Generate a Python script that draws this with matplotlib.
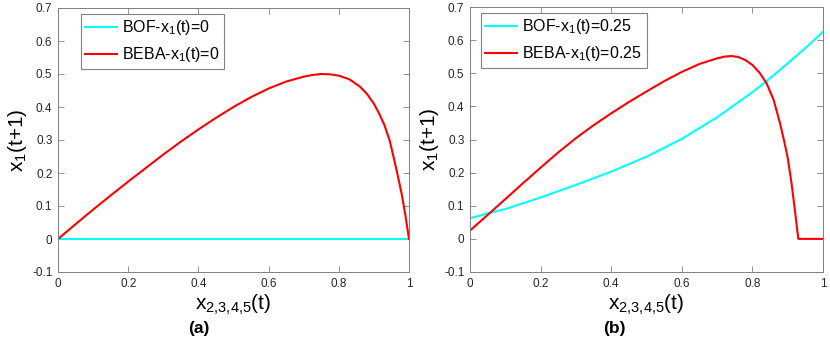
import numpy as np
import matplotlib
matplotlib.use('Agg')
import matplotlib.pyplot as plt

plt.rcParams['font.family'] = ['Liberation Sans', 'DejaVu Sans']
plt.rcParams['mathtext.fontset'] = 'custom'
plt.rcParams['mathtext.rm'] = 'Liberation Sans'
plt.rcParams['mathtext.it'] = 'Liberation Sans'
plt.rcParams['mathtext.default'] = 'regular'

# datos
# (a) x1(t)=0
xa_beba = [0, 0.05, 0.1, 0.15, 0.2, 0.25, 0.3, 0.35, 0.4, 0.45, 0.5, 0.55, 0.6,
           0.65, 0.7, 0.725, 0.75, 0.775, 0.8, 0.83, 0.86, 0.88, 0.9, 0.915, 0.93,
           0.945, 0.955, 0.965, 0.98, 0.99, 1.0]
ya_beba = [0, 0.045, 0.089, 0.132, 0.174, 0.215, 0.256, 0.295, 0.332, 0.367,
           0.4, 0.43, 0.456, 0.477, 0.492, 0.497, 0.5, 0.499, 0.495, 0.484, 0.462,
           0.44, 0.41, 0.38, 0.345, 0.298, 0.253, 0.207, 0.132, 0.07, 0.0]
xa_bof = [0, 1.0]
ya_bof = [0, 0]

# (b) x1(t)=0.25
xb_bof = [0, 0.057, 0.1, 0.2, 0.3, 0.4, 0.5, 0.6, 0.7, 0.8, 0.84, 0.9, 0.95, 1.0]
yb_bof = [0.0625, 0.079, 0.09, 0.125, 0.163, 0.203, 0.248, 0.302, 0.367, 0.443,
          0.476, 0.53, 0.576, 0.625]
xb_beba = [0, 0.057, 0.1, 0.15, 0.2, 0.25, 0.3, 0.35, 0.4, 0.45, 0.5, 0.55,
           0.6, 0.65, 0.7, 0.72, 0.74, 0.76, 0.78, 0.8, 0.82, 0.84, 0.86,
           0.878, 0.89, 0.9, 0.911, 0.92, 0.93, 1.0]
yb_beba = [0.025, 0.079, 0.12, 0.168, 0.215, 0.261, 0.304, 0.343, 0.379, 0.413,
           0.445, 0.476, 0.504, 0.528, 0.545, 0.55, 0.552, 0.549, 0.54, 0.525,
           0.502, 0.47, 0.42, 0.35, 0.295, 0.245, 0.167, 0.09, 0.0, 0.0]

cian = '#00FFFF'
rojo = '#FF0000'
gris = '#808080'

fig = plt.figure(figsize=(8.3, 3.39), dpi=100)
ax1 = fig.add_axes([58/830, 1-272/339, 351/830, 264/339])
ax2 = fig.add_axes([470/830, 1-272/339, 353/830, 265/339])

paneles = [
    (ax1, xa_bof, ya_bof, xa_beba, ya_beba, 'BOF-$x_1$(t)=0', 'BEBA-$x_1$(t)=0'),
    (ax2, xb_bof, yb_bof, xb_beba, yb_beba, 'BOF-$x_1$(t)=0.25', 'BEBA-$x_1$(t)=0.25'),
]

for ax, xc, yc, xr, yr, lab_c, lab_r in paneles:
    ax.plot(xc, yc, color=cian, lw=1.5, label=lab_c)
    ax.plot(xr, yr, color=rojo, lw=1.5, label=lab_r)
    ax.set_xlim(0, 1)
    ax.set_ylim(-0.1, 0.7)
    ax.set_xticks([0, 0.2, 0.4, 0.6, 0.8, 1])
    ax.set_xticklabels(['0', '0.2', '0.4', '0.6', '0.8', '1'])
    ax.set_yticks(np.arange(-0.1, 0.71, 0.1))
    ax.set_yticklabels(['-0.1', '0', '0.1', '0.2', '0.3', '0.4', '0.5', '0.6', '0.7'])
    ax.tick_params(direction='in', length=4, width=0.6, colors=gris,
                   labelcolor='#262626', labelsize=8.5, top=True, right=True, pad=4)
    for s in ax.spines.values():
        s.set_color(gris)
        s.set_linewidth(0.7)
    ax.set_xlabel('$x_{2{,}3{,}4{,}5}$(t)', fontsize=15, labelpad=2)
    ax.set_ylabel('$x_1$(t+1)', fontsize=15, labelpad=2)
    leg = ax.legend(loc='upper left', fontsize=11.5, fancybox=False,
                    edgecolor=gris, framealpha=1, handlelength=2.0,
                    borderpad=0.3, labelspacing=0.5, handletextpad=0.3,
                    borderaxespad=0.35)
    leg.get_frame().set_linewidth(0.8)
    if ax is ax1:
        leg.set_bbox_to_anchor((17/351, 1-0/264), transform=ax.transAxes)
    else:
        leg.set_bbox_to_anchor((5/353, 1-0/265), transform=ax.transAxes)

fig.text(199/830, 1-329/339, '(a)', fontsize=12.5, fontweight='bold', ha='center', va='center')
fig.text(614/830, 1-329/339, '(b)', fontsize=12.5, fontweight='bold', ha='center', va='center')

plt.savefig('out.png', dpi=100)
